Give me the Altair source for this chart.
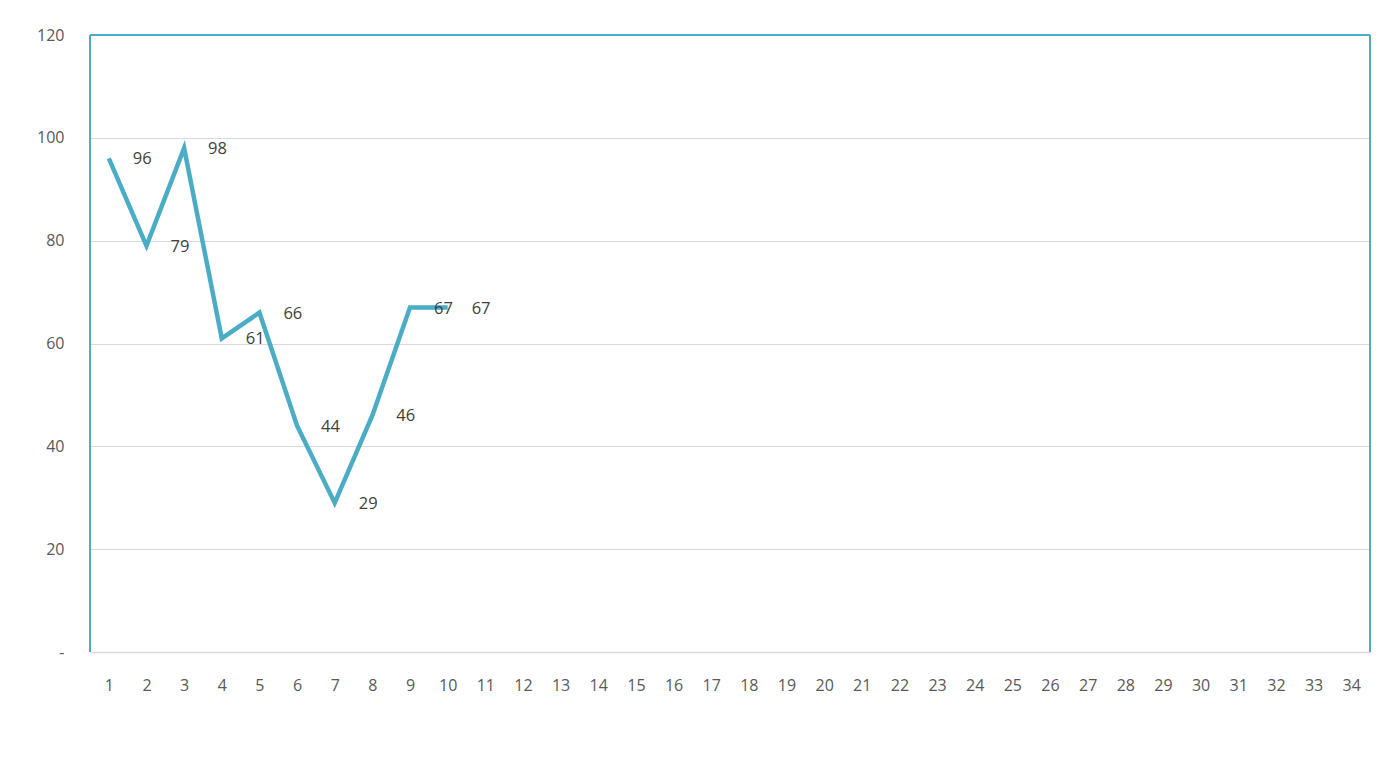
import altair as alt
import pandas as pd

categories = [str(i) for i in range(1, 35)]
point_cats = [str(i) for i in range(1, 11)]
values = [96, 79, 98, 61, 66, 44, 29, 46, 67, 67]

df = pd.DataFrame({"cat": point_cats, "value": values})

W, H = 1280, 617
TEAL = "#4bacc6"
SP = "\u2007"

x = alt.X("cat:O", scale=alt.Scale(type="point", domain=categories, padding=0.5),
          axis=alt.Axis(title=None, labelAngle=0, ticks=False, grid=False,
                        domainColor="#d9d9d9", domainWidth=1.5,
                        labelColor="#595959", labelFont="Open Sans", labelFontSize=16,
                        labelPadding=25))
y = alt.Y("value:Q", scale=alt.Scale(domain=[0, 120], nice=False),
          axis=alt.Axis(title=None, values=[0, 20, 40, 60, 80, 100, 120], ticks=False,
                        domain=False, grid=True, gridColor="#d9d9d9", gridWidth=1,
                        labelColor="#595959", labelFont="Open Sans", labelFontSize=16,
                        labelPadding=26,
                        labelExpr="datum.value == 0 ? '-" + SP + "' : datum.label"))

base = alt.Chart(df)
line = base.mark_line(color=TEAL, strokeWidth=4.5).encode(x=x, y=y)
labels = base.mark_text(align="left", baseline="middle", dx=24, dy=1,
                        font="Open Sans", fontSize=16.5, color="#404040").encode(
    x="cat:O", y="value:Q", text="value:Q")

left = alt.Chart(df).mark_rule(color=TEAL, strokeWidth=1).encode(
    x=alt.value(0), y=alt.value(0), y2=alt.value(H))
right = alt.Chart(df).mark_rule(color=TEAL, strokeWidth=1).encode(
    x=alt.value(W), y=alt.value(0), y2=alt.value(H))
top = alt.Chart(df).mark_rule(color=TEAL, strokeWidth=1).encode(
    x=alt.value(0), x2=alt.value(W), y=alt.value(0))

chart = alt.layer(line, labels, left, right, top).properties(
    width=W, height=H,
    autosize=alt.AutoSizeParams(type="none"),
    padding={"left": 82, "top": 27, "right": 10, "bottom": 90},
    background="white",
).configure_view(stroke=None)

chart.save("out.html", embed_options={"renderer": "svg", "actions": False})
